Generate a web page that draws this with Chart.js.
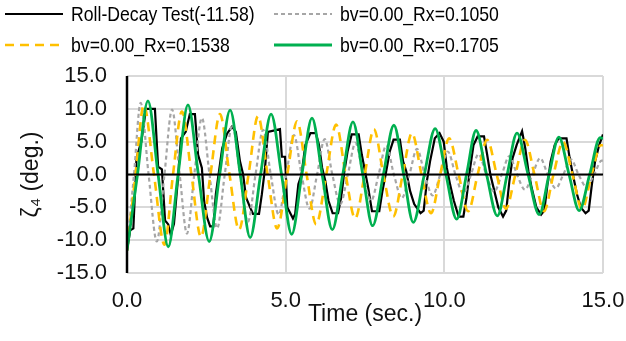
<!DOCTYPE html>
<html lang="en">
<head>
<meta charset="UTF-8">
<meta name="viewport" content="width=device-width, initial-scale=1.0">
<title>Roll decay comparison</title>
<script src="https://cdn.jsdelivr.net/npm/chart.js"></script>
<style>
    html, body {
        margin: 0;
        padding: 0;
        background: #ffffff;
    }
    body {
        width: 626px;
        height: 341px;
        position: relative;
        overflow: hidden;
        font-family: Arial, "Liberation Sans", sans-serif;
    }
    .chart-box {
        position: absolute;
        left: 0;
        top: 0;
        width: 626px;
        height: 341px;
    }
    .legend-item {
        position: absolute;
        height: 28px;
        display: flex;
        align-items: center;
        font-size: 21px;
        color: #000;
        white-space: nowrap;
    }
    .legend-item svg {
        margin-right: 8px;
        flex: none;
    }
    .legend-item span {
        display: inline-block;
        transform: scaleX(0.84);
        transform-origin: left center;
    }
</style>
</head>
<body>
<div class="chart-box"><canvas id="rollChart" width="626" height="341"></canvas></div>
<div id="legend"></div>

<script>
// series names
const seriesLabels = ['Roll-Decay Test(-11.58)', 'bv=0.00_Rx=0.1050', 'bv=0.00_Rx=0.1538', 'bv=0.00_Rx=0.1705'];

// axis ticks
const xTicks = [0, 5, 10, 15];
const yTicks = [-15, -10, -5, 0, 5, 10, 15];

// measured roll angle [time (s), deg]
const rollTest = [
    [0.00,-11.58],[0.10,-8.5],[0.20,-8.2],[0.30,2.5],[0.45,5.0],[0.60,10.0],[0.88,10.0],[0.98,1.2],[1.10,0.8],
    [1.20,-7.0],[1.30,-7.6],[1.38,-9.2],[1.48,-7.5],[1.60,-1.0],[1.70,5.5],[1.85,6.5],[1.98,9.2],[2.14,9.2],
    [2.24,3.0],[2.36,1.0],[2.43,-4.0],[2.52,-6.5],[2.62,-7.9],[2.72,-7.9],[2.80,-3.0],[2.90,0.5],[3.00,4.0],
    [3.15,6.2],[3.31,7.3],[3.43,6.5],[3.56,2.0],[3.66,0.0],[3.75,-3.5],[3.88,-5.0],[3.97,-6.0],[4.16,-6.0],
    [4.25,-3.0],[4.35,1.0],[4.44,6.5],[4.82,6.9],[4.88,2.7],[4.98,2.7],[5.05,-5.0],[5.23,-6.7],[5.30,-6.0],
    [5.40,-1.5],[5.50,0.0],[5.62,4.5],[5.78,6.3],[5.95,6.3],[6.05,4.5],[6.15,1.0],[6.25,-1.0],[6.35,-4.0],
    [6.48,-5.9],[6.65,-5.9],[6.75,-3.5],[6.85,0.5],[6.95,3.5],[7.08,6.1],[7.30,6.1],[7.40,3.0],[7.50,0.5],
    [7.60,-2.0],[7.72,-5.6],[7.95,-5.6],[8.05,-2.5],[8.15,0.0],[8.28,3.5],[8.40,5.3],[8.60,5.3],[8.70,2.0],
    [8.80,0.5],[8.92,-2.5],[9.05,-4.5],[9.25,-5.9],[9.35,-5.5],[9.45,-1.0],[9.55,2.0],[9.70,5.5],[9.85,6.3],
    [9.98,5.0],[10.08,1.0],[10.18,-1.5],[10.30,-4.0],[10.45,-6.4],[10.60,-6.4],[10.70,-3.5],[10.80,0.5],
    [10.92,4.5],[11.05,5.8],[11.25,5.8],[11.35,3.0],[11.45,0.0],[11.55,-2.0],[11.70,-5.0],[11.85,-6.4],
    [11.95,-5.5],[12.05,-1.0],[12.15,2.5],[12.28,4.5],[12.45,6.6],[12.55,4.0],[12.65,0.5],[12.75,-2.0],
    [12.90,-5.0],[13.05,-6.1],[13.15,-5.5],[13.25,-1.5],[13.35,2.0],[13.48,4.5],[13.60,5.5],[13.85,5.5],
    [13.95,2.5],[14.05,0.0],[14.18,-3.0],[14.30,-5.0],[14.45,-5.9],[14.55,-5.5],[14.65,-1.5],[14.75,2.0],
    [14.88,4.5],[15.00,6.1]
];

// bv=0.00 Rx=0.1050
const rx1050 = [
    [0,-11.58],[0.22,0],[0.43,10.9],[0.68,0],[0.94,-10.2],[1.18,0],[1.42,9.9],[1.66,0],[1.89,-9.0],
    [2.12,0],[2.36,8.6],[2.60,0],[2.84,-8.2],[3.08,0],[3.32,7.6],[3.56,0],[3.81,-7.2],[4.05,0],[4.29,6.8],
    [4.53,0],[4.78,-6.1],[5.02,0],[5.26,6.0],[5.50,0],[5.75,-5.2],[5.99,0],[6.23,5.4],[6.47,0],[6.72,-4.5],
    [6.96,0],[7.20,4.8],[7.44,0],[7.69,-4.0],[7.93,0],[8.17,4.4],[8.41,0],[8.66,-3.6],[8.90,0],[9.14,3.9],
    [9.38,0],[9.63,-3.2],[9.87,0],[10.11,3.5],[10.35,0],[10.60,-2.9],[10.84,0],[11.08,3.1],[11.32,0],
    [11.57,-2.6],[11.81,0],[12.05,2.8],[12.29,0],[12.54,-2.3],[12.78,0],[13.02,2.5],[13.26,0],[13.51,-2.1],
    [13.75,0],[13.99,2.3],[14.23,0],[14.48,-1.9],[14.72,0],[14.96,2.1],[15.0,2.1]
];

// bv=0.00 Rx=0.1538
const rx1538 = [
    [0,-11.58],[0.27,0],[0.53,10.6],[0.85,0],[1.18,-10.7],[1.45,0],[1.73,9.6],[2.03,0],[2.33,-9.5],
    [2.63,0],[2.93,9.2],[3.23,0],[3.53,-8.4],[3.83,0],[4.13,8.9],[4.43,0],[4.73,-8.2],[5.05,0],[5.36,8.1],
    [5.66,0],[5.96,-7.6],[6.28,0],[6.59,7.6],[6.89,0],[7.19,-6.7],[7.49,0],[7.78,6.9],[8.08,0],[8.39,-6.4],
    [8.69,0],[8.98,6.3],[9.28,0],[9.58,-5.9],[9.87,0],[10.15,5.5],[10.45,0],[10.75,-5.6],[11.05,0],
    [11.35,5.3],[11.65,0],[11.94,-5.2],[12.24,0],[12.54,5.3],[12.84,0],[13.14,-5.6],[13.44,0],[13.74,5.0],
    [14.04,0],[14.34,-5.3],[14.64,0],[14.94,4.5],[15.0,4.4]
];

// bv=0.00 Rx=0.1705
const rx1705 = [
    [0,-11.58],[0.33,0],[0.66,11.2],[0.98,0],[1.30,-11.0],[1.61,0],[1.92,10.6],[2.25,0],[2.59,-10.2],
    [2.92,0],[3.25,9.8],[3.57,0],[3.88,-9.6],[4.21,0],[4.54,9.2],[4.87,0],[5.19,-9.1],[5.51,0],[5.83,8.6],
    [6.15,0],[6.47,-8.4],[6.80,0],[7.12,8.0],[7.43,0],[7.74,-7.8],[8.08,0],[8.41,7.5],[8.72,0],[9.02,-7.3],
    [9.37,0],[9.71,7.0],[10.05,0],[10.39,-6.8],[10.70,0],[11.00,6.7],[11.33,0],[11.67,-6.3],[11.98,0],
    [12.29,6.3],[12.64,0],[12.99,-6.1],[13.30,0],[13.61,5.7],[13.93,0],[14.25,-5.5],[14.58,0],[14.91,5.6],
    [15.0,5.5]
];

const seriesData = [rollTest, rx1050, rx1538, rx1705];
const seriesColors = ['#000000', '#A6A6A6', '#FFC000', '#00B050'];
const seriesDash = [[], [4, 3], [9, 6], []];
const seriesWidth = [2.2, 2.2, 2.6, 2.8];
const legendPos = [[5, 0], [274, 0], [5, 31], [274, 31]];

const toXY = arr => arr.map(p => ({ x: p[0], y: p[1] }));

// black zero line and y axis are drawn over the curves, like the original
const axisOverlay = {
    id: 'axisOverlay',
    afterDatasetsDraw(chart) {
        const { ctx, chartArea, scales } = chart;
        const y0 = scales.y.getPixelForValue(0);
        const x0 = scales.x.getPixelForValue(0);
        ctx.save();
        ctx.strokeStyle = '#000';
        ctx.lineWidth = 2;
        ctx.beginPath();
        ctx.moveTo(chartArea.left, y0);
        ctx.lineTo(chartArea.right, y0);
        ctx.stroke();
        ctx.lineWidth = 2.5;
        ctx.beginPath();
        ctx.moveTo(x0, chartArea.top);
        ctx.lineTo(x0, chartArea.bottom);
        ctx.stroke();
        ctx.restore();
    }
};

function buildLegend() {
    const box = document.getElementById('legend');
    seriesLabels.forEach((label, i) => {
        const item = document.createElement('div');
        item.className = 'legend-item';
        item.style.left = legendPos[i][0] + 'px';
        item.style.top = legendPos[i][1] + 'px';
        const dash = seriesDash[i].length ? `stroke-dasharray="${seriesDash[i].join(',')}"` : '';
        item.innerHTML = `<svg width="58" height="6"><line x1="0" y1="3" x2="58" y2="3" stroke="${seriesColors[i]}" stroke-width="${seriesWidth[i]}" ${dash}/></svg><span>${label}</span>`;
        box.appendChild(item);
    });
}

function createChart() {
    const ctx = document.getElementById('rollChart').getContext('2d');
    const fontFamily = 'Arial, "Liberation Sans", sans-serif';

    new Chart(ctx, {
        type: 'line',
        data: {
            datasets: seriesData.map((d, i) => ({
                label: seriesLabels[i],
                data: toXY(d),
                borderColor: seriesColors[i],
                backgroundColor: seriesColors[i],
                borderWidth: seriesWidth[i],
                borderDash: seriesDash[i],
                pointRadius: 0,
                fill: false,
                tension: 0,
                cubicInterpolationMode: i === 0 ? 'default' : 'monotone',
                order: 4 - i
            }))
        },
        options: {
            responsive: false,
            animation: false,
            events: [],
            layout: {
                padding: { top: 76, right: 23, bottom: 0, left: 0 }
            },
            plugins: {
                legend: { display: false },
                tooltip: { enabled: false }
            },
            scales: {
                x: {
                    type: 'linear',
                    min: 0,
                    max: 15,
                    afterBuildTicks: scale => { scale.ticks = xTicks.map(v => ({ value: v })); },
                    afterFit: scale => {
                        scale.height = 68;
                        scale.paddingLeft = 0;
                        scale.paddingRight = 0;
                    },
                    grid: {
                        color: '#D9D9D9',
                        lineWidth: 2,
                        drawTicks: false
                    },
                    border: { display: false },
                    ticks: {
                        color: '#111',
                        padding: 15,
                        maxRotation: 0,
                        font: { family: fontFamily, size: 22 },
                        callback: v => Number(v).toFixed(1)
                    },
                    title: {
                        display: true,
                        text: 'Time (sec.)',
                        color: '#111',
                        padding: { top: 0, bottom: 13 },
                        font: { family: fontFamily, size: 23 }
                    }
                },
                y: {
                    type: 'linear',
                    min: -15,
                    max: 15,
                    afterBuildTicks: scale => { scale.ticks = yTicks.map(v => ({ value: v })); },
                    afterFit: scale => { scale.width = 127; },
                    grid: {
                        color: '#D9D9D9',
                        lineWidth: 2,
                        drawTicks: false
                    },
                    border: { display: false },
                    ticks: {
                        color: '#111',
                        padding: 20,
                        font: { family: fontFamily, size: 22 },
                        callback: v => Number(v).toFixed(1)
                    },
                    title: {
                        display: true,
                        text: 'ζ₄ (deg.)',
                        color: '#111',
                        padding: { top: 18, bottom: 0 },
                        font: { family: fontFamily, size: 23 }
                    }
                }
            }
        },
        plugins: [axisOverlay]
    });
}

document.addEventListener('DOMContentLoaded', function() {
    buildLegend();
    createChart();
});
</script>
</body>
</html>
